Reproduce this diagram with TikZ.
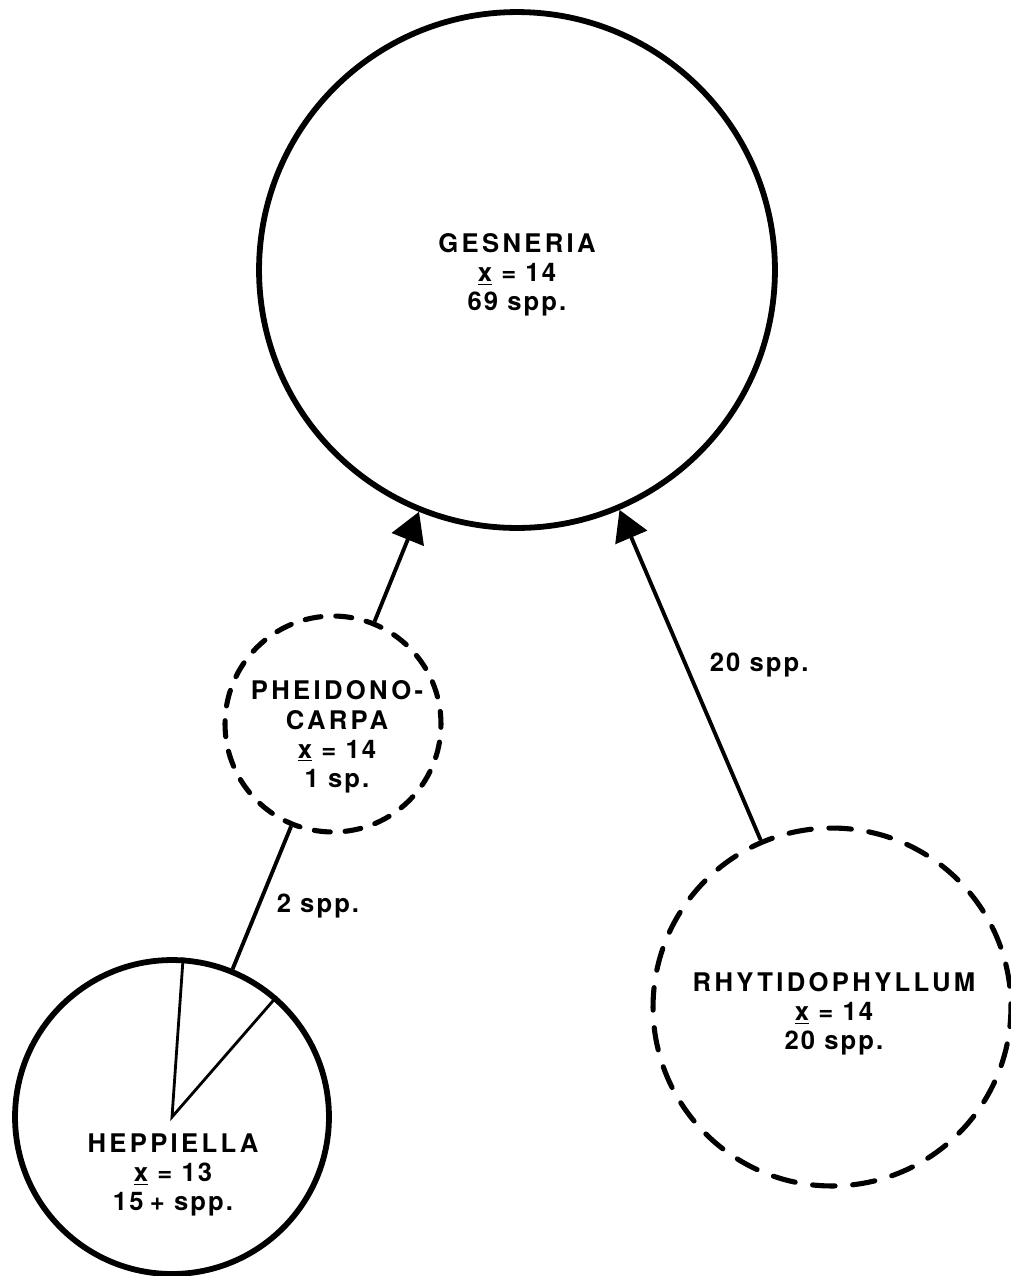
\documentclass[tikz,border=0pt]{standalone}
\usepackage{fontspec}
\setmainfont{TeX Gyre Heros}[LetterSpace=8]
\usetikzlibrary{arrows.meta}
\newcommand{\taxon}[1]{{\addfontfeatures{LetterSpace=13}#1}}

\begin{document}
\begin{tikzpicture}[x=0.02cm,y=-0.02cm,>={Triangle[length=0.6cm,width=0.68cm]},
    genus/.style={circle,draw,line width=3.3pt,inner sep=0pt},
    putative/.style={genus,line width=2.9pt,line cap=round},
    txt/.style={align=center,inner sep=0pt,
                font=\fontsize{14.6}{16.6}\selectfont\bfseries},
    conn/.style={line width=2.2pt},
    lbl/.style={inner sep=0pt,anchor=west,font=\fontsize{14.6}{16}\selectfont\bfseries}]
  \useasboundingbox (0,0) rectangle (1011,1276);
  % genera
  \node[genus,minimum size=10.32cm] (ges) at (517,270) {};
  \node[putative,minimum size=4.32cm,
        dash pattern=on 0.32cm off 0.297cm,dash phase=0.068cm] (pheid) at (333,724) {};
  \node[genus,minimum size=6.28cm] (hep) at (172,1117) {};
  \node[putative,minimum size=7.16cm,
        dash pattern=on 0.45cm off 0.3533cm,dash phase=0.386cm] (rhyt) at (832,1007) {};
  \draw[line width=1.6pt] (hep.86) -- (hep.center) -- (hep.49);
  % names
  \node[txt] (gesT) at (517,275) {\taxon{GESNERIA}\\ \underline{x} = 14\\ 69 spp.};
  \node[txt] (pheidT) at (337,737) {\taxon{PHEIDONO-}\\ \taxon{CARPA}\\ \underline{x} = 14\\ 1 sp.};
  \node[txt] (hepT) at (173,1175) {\taxon{HEPPIELLA}\\ \underline{x} = 13\\ 15\hspace{0.25em}+ spp.};
  \node[txt] (rhytT) at (834,1014) {\taxon{RHYTIDOPHYLLUM}\\ \underline{x} = 14\\ 20 spp.};
  % links
  \draw[conn,->] (pheid) -- (ges);
  \draw[conn,->] (rhyt) -- (ges) node[lbl,pos=0.53,xshift=0.44cm] (rhytL) {20 spp.};
  \draw[conn] (hep) -- (pheid) node[lbl,pos=0.44,xshift=0.33cm] (hepL) {2 spp.};
\end{tikzpicture}
\end{document}
